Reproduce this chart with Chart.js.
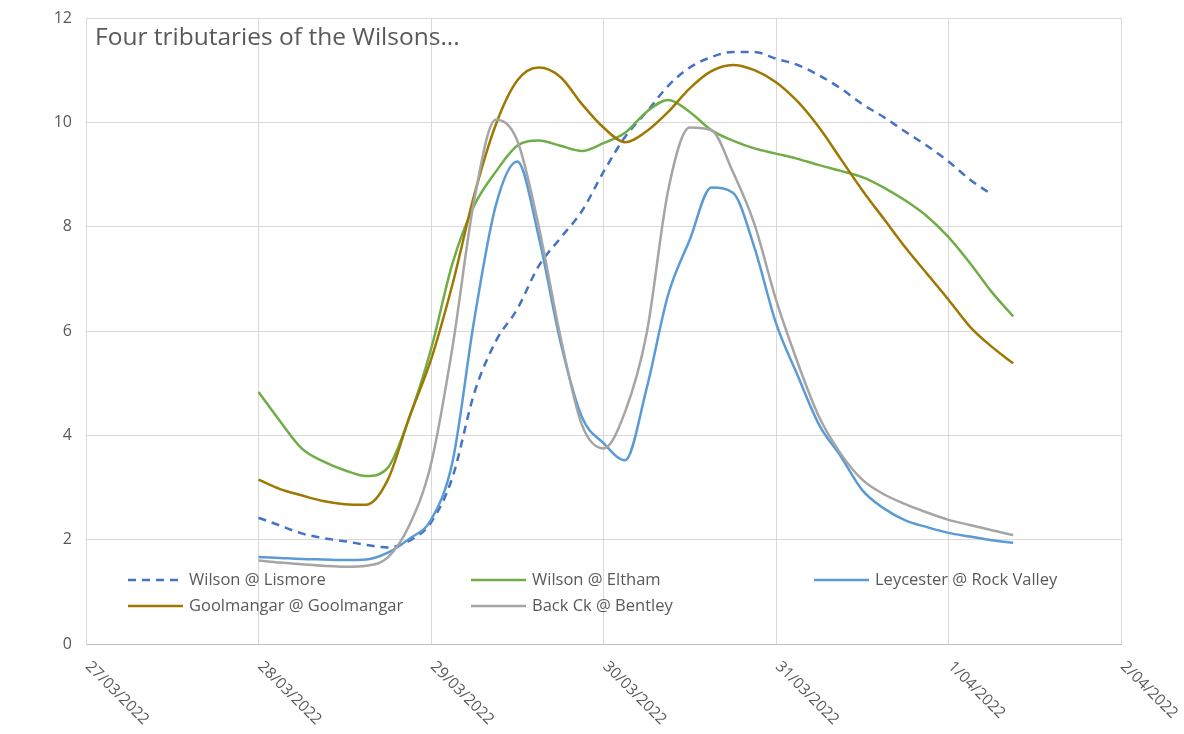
<!DOCTYPE html>
<html>
<head>
<meta charset="utf-8">
<title>Four tributaries of the Wilsons</title>
<script src="https://cdn.jsdelivr.net/npm/chart.js@4.4.1/dist/chart.umd.min.js"></script>
<style>
  html, body { margin: 0; padding: 0; background: #fff; }
</style>
</head>
<body>
<canvas id="chart" width="1184" height="734"></canvas>
<script>
// --- data ---
const titleText = 'Four tributaries of the Wilsons...';
const dayLabels = ['27/03/2022', '28/03/2022', '29/03/2022', '30/03/2022', '31/03/2022', '1/04/2022', '2/04/2022'];

// hours after 28/03/2022 00:00
const hours = [0, 3, 6, 9, 12, 15, 18, 21, 24, 27, 30, 33, 36, 39, 42, 45, 48, 51,
               54, 57, 60, 63, 66, 69, 72, 75, 78, 81, 84, 87, 90, 93, 96, 99, 102, 105];

const lismore = [2.42, 2.27, 2.12, 2.03, 1.97, 1.90, 1.85, 1.98, 2.33, 3.20, 4.80, 5.80,
                 6.42, 7.25, 7.78, 8.30, 9.05, 9.72, 10.20, 10.70, 11.05, 11.25, 11.35, 11.35,
                 11.22, 11.10, 10.90, 10.65, 10.35, 10.10, 9.82, 9.55, 9.25, 8.90, 8.62, null];
const eltham = [4.83, 4.27, 3.75, 3.50, 3.33, 3.22, 3.38, 4.35, 5.65, 7.30, 8.40, 9.05,
                9.55, 9.65, 9.55, 9.45, 9.60, 9.80, 10.20, 10.43, 10.20, 9.85, 9.65, 9.50,
                9.40, 9.30, 9.18, 9.07, 8.95, 8.75, 8.50, 8.20, 7.80, 7.30, 6.75, 6.28];
const rockValley = [1.67, 1.65, 1.63, 1.62, 1.61, 1.62, 1.75, 2.02, 2.38, 3.50, 6.20, 8.40,
                    9.25, 7.80, 5.80, 4.35, 3.85, 3.52, 4.90, 6.70, 7.75, 8.75, 8.65, 7.60,
                    6.15, 5.15, 4.20, 3.60, 2.95, 2.60, 2.37, 2.24, 2.13, 2.06, 1.99, 1.94];
const goolmangar = [3.15, 2.97, 2.85, 2.74, 2.68, 2.67, 3.15, 4.35, 5.45, 6.90, 8.60, 9.95,
                    10.80, 11.05, 10.87, 10.35, 9.90, 9.62, 9.83, 10.20, 10.65, 10.98, 11.10, 11.00,
                    10.77, 10.40, 9.90, 9.30, 8.70, 8.15, 7.60, 7.10, 6.60, 6.08, 5.70, 5.38];
const bentley = [1.60, 1.56, 1.53, 1.50, 1.48, 1.50, 1.66, 2.28, 3.45, 5.70, 8.50, 10.05,
                 9.65, 8.00, 5.90, 4.20, 3.75, 4.45, 5.95, 8.70, 9.90, 9.85, 9.05, 8.05,
                 6.60, 5.40, 4.35, 3.65, 3.15, 2.87, 2.68, 2.52, 2.38, 2.28, 2.18, 2.09];

const textGrey = '#595959';
const fontName = '"Open Sans", "Liberation Sans", sans-serif';

// x value in days since 27/03/2022
const toPoints = (vals) => hours.map((h, i) => ({ x: 1 + h / 24, y: vals[i] }));

const series = [
    { label: 'Wilson @ Lismore', data: lismore, color: '#4472C4', dash: [8, 6], order: 5 },
    { label: 'Wilson @ Eltham', data: eltham, color: '#70AD47', dash: [], order: 4 },
    { label: 'Leycester @ Rock Valley', data: rockValley, color: '#5B9BD5', dash: [], order: 3 },
    { label: 'Goolmangar @ Goolmangar', data: goolmangar, color: '#9E7800', dash: [], order: 2 },
    { label: 'Back Ck @ Bentley', data: bentley, color: '#A5A5A5', dash: [], order: 1 }
];

// title, rotated date labels and the in-plot legend
const overlay = {
    id: 'overlay',
    afterDraw(chart) {
        const ctx = chart.ctx;
        const area = chart.chartArea;
        const xs = chart.scales.x;
        ctx.save();

        ctx.fillStyle = textGrey;
        ctx.font = '24.5px ' + fontName;
        ctx.textAlign = 'left';
        ctx.textBaseline = 'alphabetic';
        ctx.fillText(titleText, area.left + 9, 45);

        ctx.font = '15.5px ' + fontName;
        ctx.textBaseline = 'middle';
        xs.ticks.forEach(t => {
            const px = xs.getPixelForValue(t.value);
            ctx.save();
            ctx.translate(px + 2, area.bottom + 20);
            ctx.rotate(Math.PI / 4);
            ctx.fillText(dayLabels[t.value], 0, 0);
            ctx.restore();
        });

        ctx.font = '16.5px ' + fontName;
        chart.data.datasets.forEach((ds, i) => {
            const col = i % 3, row = Math.floor(i / 3);
            const x0 = area.left + 42 + col * 343;
            const y0 = area.bottom - 64 + row * 26;
            ctx.strokeStyle = ds.borderColor;
            ctx.lineWidth = 2.5;
            ctx.setLineDash(ds.borderDash || []);
            ctx.beginPath();
            ctx.moveTo(x0, y0);
            ctx.lineTo(x0 + 55, y0);
            ctx.stroke();
            ctx.setLineDash([]);
            ctx.fillStyle = textGrey;
            ctx.fillText(ds.label, x0 + 61, y0);
        });
        ctx.restore();
    }
};

new Chart(document.getElementById('chart'), {
    type: 'line',
    data: {
        datasets: series.map(s => ({
            label: s.label,
            data: toPoints(s.data),
            borderColor: s.color,
            borderDash: s.dash,
            borderWidth: 2.5,
            pointRadius: 0,
            fill: false,
            cubicInterpolationMode: 'monotone',
            order: s.order
        }))
    },
    options: {
        responsive: false,
        animation: false,
        layout: { padding: { top: 18, right: 63, left: 0, bottom: 0 } },
        plugins: {
            legend: { display: false },
            tooltip: { enabled: false }
        },
        scales: {
            x: {
                type: 'linear',
                min: 0,
                max: 6,
                ticks: { display: false, stepSize: 1 },
                grid: { color: '#d9d9d9', drawTicks: false },
                border: { color: '#bfbfbf' },
                afterFit: (scale) => { scale.height = 90; }
            },
            y: {
                min: 0,
                max: 12,
                ticks: {
                    stepSize: 2,
                    padding: 14,
                    color: textGrey,
                    font: { family: fontName, size: 16 }
                },
                grid: { color: '#d9d9d9', drawTicks: false },
                border: { color: '#d9d9d9' },
                afterFit: (scale) => {
                    scale.width = 86;
                    scale.paddingTop = 0;
                    scale.paddingBottom = 0;
                }
            }
        }
    },
    plugins: [overlay]
});
</script>
</body>
</html>
